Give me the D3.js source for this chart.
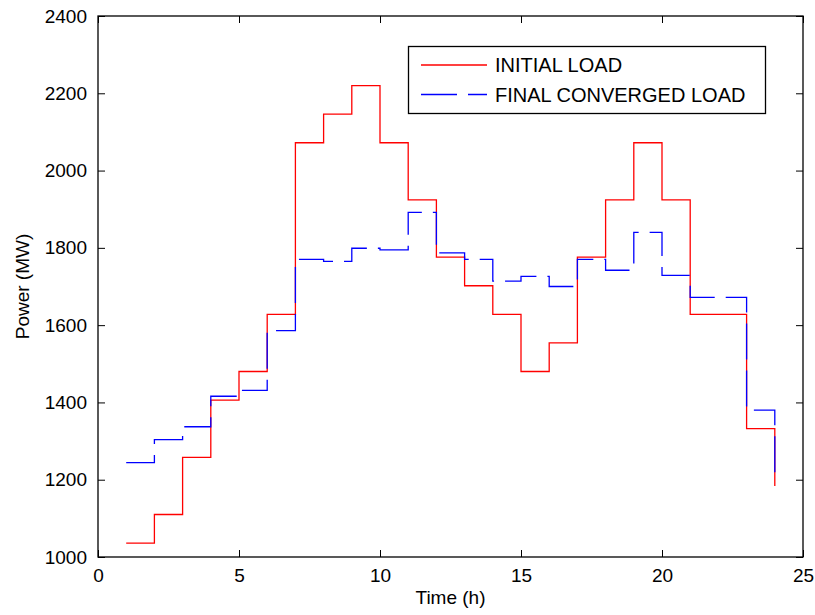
<!DOCTYPE html>
<html>
<head>
<meta charset="utf-8">
<script src="https://cdn.jsdelivr.net/npm/d3@7"></script>
<style>
  body { margin: 0; background: #fff; }
  text { font-family: "Liberation Sans", Arial, Helvetica, sans-serif; fill: #000; }
</style>
</head>
<body>
<div id="chart"></div>
<script>
// Hours of the day
const hours = [1, 2, 3, 4, 5, 6, 7, 8, 9, 10, 11, 12, 13, 14, 15, 16, 17, 18, 19, 20, 21, 22, 23, 24];

// Load values (MW)
const initialLoad = [1036, 1110, 1258, 1406, 1480, 1628, 2072, 2146, 2220, 2072, 1924, 1776,
                     1702, 1628, 1480, 1554, 1776, 1924, 2072, 1924, 1628, 1628, 1332, 1184];
const finalLoad = [1244, 1304, 1337, 1416, 1431, 1586, 1770, 1765, 1799, 1795, 1892, 1787,
                   1770, 1714, 1726, 1700, 1770, 1742, 1840, 1729, 1672, 1672, 1380, 1200];

// Tick labels
const xTicks = [0, 5, 10, 15, 20, 25];
const yTicks = [1000, 1200, 1400, 1600, 1800, 2000, 2200, 2400];

const seriesNames = ['INITIAL LOAD', 'FINAL CONVERGED LOAD'];

const width = 815, height = 615;
const plotLeft = 98, plotRight = 803, plotTop = 16, plotBottom = 557;

const svg = d3.select('#chart')
  .append('svg')
  .attr('width', width)
  .attr('height', height);

const x = d3.scaleLinear().domain([0, 25]).range([plotLeft, plotRight]);
const y = d3.scaleLinear().domain([1000, 2400]).range([plotBottom, plotTop]);

const tickLen = 7;

// axes (ticks point inwards, box on)
svg.append('g')
  .attr('transform', `translate(0,${plotBottom})`)
  .call(d3.axisBottom(x).tickValues(xTicks).tickSize(-tickLen).tickPadding(tickLen + 5))
  .call(g => g.select('.domain').remove())
  .call(g => g.selectAll('text').style('font-size', '19px'));

svg.append('g')
  .attr('transform', `translate(0,${plotTop})`)
  .call(d3.axisTop(x).tickValues(xTicks).tickSize(-tickLen).tickFormat(''))
  .call(g => g.select('.domain').remove());

svg.append('g')
  .attr('transform', `translate(${plotLeft},0)`)
  .call(d3.axisLeft(y).tickValues(yTicks).tickFormat(d3.format('d')).tickSize(-tickLen).tickPadding(tickLen + 4))
  .call(g => g.select('.domain').remove())
  .call(g => g.selectAll('text').style('font-size', '19px'));

svg.append('g')
  .attr('transform', `translate(${plotRight},0)`)
  .call(d3.axisRight(y).tickValues(yTicks).tickSize(-tickLen).tickFormat(''))
  .call(g => g.select('.domain').remove());

svg.append('rect')
  .attr('x', plotLeft)
  .attr('y', plotTop)
  .attr('width', plotRight - plotLeft)
  .attr('height', plotBottom - plotTop)
  .attr('fill', 'none')
  .attr('stroke', '#000')
  .attr('stroke-width', 1.3);

// step lines
const line = d3.line()
  .x((d, i) => x(hours[i]))
  .y(d => y(d))
  .curve(d3.curveStepAfter);

svg.append('path')
  .datum(initialLoad)
  .attr('d', line)
  .attr('fill', 'none')
  .attr('stroke', '#ff0000')
  .attr('stroke-width', 1.3);

svg.append('path')
  .datum(finalLoad)
  .attr('d', line)
  .attr('fill', 'none')
  .attr('stroke', '#0000ff')
  .attr('stroke-width', 1.3)
  .attr('stroke-dasharray', '36,11');

// axis labels
svg.append('text')
  .attr('x', (plotLeft + plotRight) / 2)
  .attr('y', 604)
  .attr('text-anchor', 'middle')
  .style('font-size', '19px')
  .text('Time (h)');

svg.append('text')
  .attr('transform', `translate(29,${(plotTop + plotBottom) / 2}) rotate(-90)`)
  .attr('text-anchor', 'middle')
  .style('font-size', '19px')
  .text('Power (MW)');

// legend
const legend = svg.append('g');
legend.append('rect')
  .attr('x', 408.5)
  .attr('y', 46.5)
  .attr('width', 357)
  .attr('height', 67)
  .attr('fill', '#fff')
  .attr('stroke', '#000')
  .attr('stroke-width', 1.3);

const legendStyles = [
  { color: '#ff0000', dash: null },
  { color: '#0000ff', dash: '36,11' }
];

seriesNames.forEach((name, i) => {
  const ly = 65 + i * 29.5;
  legend.append('line')
    .attr('x1', 421).attr('x2', 487)
    .attr('y1', ly).attr('y2', ly)
    .attr('stroke', legendStyles[i].color)
    .attr('stroke-width', 1.3)
    .attr('stroke-dasharray', legendStyles[i].dash);
  legend.append('text')
    .attr('x', 495)
    .attr('y', ly + 7)
    .style('font-size', '20px')
    .text(name);
});
</script>
</body>
</html>
